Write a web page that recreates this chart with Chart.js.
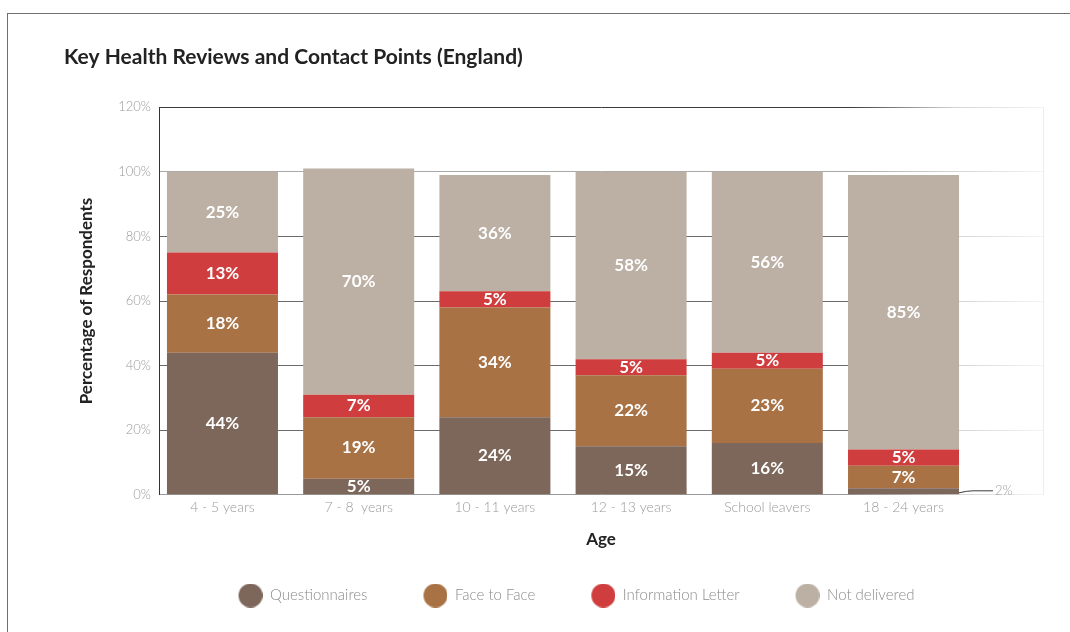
<!DOCTYPE html>
<html>
<head>
<meta charset="utf-8">
<title>Key Health Reviews and Contact Points (England)</title>
<script src="https://cdn.jsdelivr.net/npm/chart.js@4.4.1/dist/chart.umd.min.js"></script>
<style>
    html, body { margin: 0; padding: 0; background: #fff; }
    #wrap { position: relative; width: 1070px; height: 632px; overflow: hidden; }
    #frame {
        position: absolute; left: 7px; top: 13px; right: -10px; bottom: -10px;
        border-top: 1px solid #707070; border-left: 1px solid #707070;
    }
    #chart { position: absolute; left: 0; top: 0; }
</style>
</head>
<body>
<div id="wrap">
    <div id="frame"></div>
    <canvas id="chart" width="1070" height="632"></canvas>
</div>
<script>
// age groups along the x axis
const ageGroups = ["4 - 5 years", "7 - 8  years", "10 - 11 years", "12 - 13 years", "School leavers", "18 - 24 years"];

// percentage of respondents per contact type
const questionnaires = [44, 5, 24, 15, 16, 2];
const faceToFace = [18, 19, 34, 22, 23, 7];
const infoLetter = [13, 7, 5, 5, 5, 5];
const notDelivered = [25, 70, 36, 58, 56, 85];

const seriesNames = ["Questionnaires", "Face to Face", "Information Letter", "Not delivered"];
const seriesValues = [questionnaires, faceToFace, infoLetter, notDelivered];
const seriesColors = ["#7d665a", "#a87245", "#cf3d3e", "#bcb0a5"];

const FONT = "Lato, 'Open Sans', sans-serif";

// round legend markers, drawn at the right end of a wider box so items get more room
const DOT_BOX = 70;
function legendDot(color) {
    const c = document.createElement("canvas");
    c.width = DOT_BOX;
    c.height = 24;
    const g = c.getContext("2d");
    g.fillStyle = color;
    g.beginPath();
    g.arc(c.width - 12, 12, 12, 0, Math.PI * 2);
    g.fill();
    return c;
}
const legendDots = seriesColors.map(legendDot);

// grid lines fade out towards the right side of the plot
function fadeLine(ctx, base) {
    const area = ctx.chart.chartArea;
    if (!area) return base;
    const g = ctx.chart.ctx.createLinearGradient(area.left, 0, area.right, 0);
    g.addColorStop(0, base);
    g.addColorStop(0.78, base);
    g.addColorStop(0.9, "#d4d4d4");
    g.addColorStop(1, "#f4f4f4");
    return g;
}

function gridColor(ctx) {
    const v = ctx.tick ? ctx.tick.value : 0;
    if (v === 120) return fadeLine(ctx, "#3a3a3a");
    if (v === 100) return fadeLine(ctx, "#a8a8a8");
    if (v === 0) return fadeLine(ctx, "#9a9a9a");
    return fadeLine(ctx, "#6a6a6a");
}

// value labels in the middle of each segment, tiny ones get a leader line
const segmentLabels = {
    id: "segmentLabels",
    afterDatasetsDraw(chart) {
        const ctx = chart.ctx;
        ctx.save();
        ctx.textBaseline = "middle";
        chart.data.datasets.forEach((ds, di) => {
            const meta = chart.getDatasetMeta(di);
            if (meta.hidden) return;
            meta.data.forEach((bar, i) => {
                const v = ds.data[i].y;
                const { x, y, base, width } = bar.getProps(["x", "y", "base", "width"], true);
                const mid = (y + base) / 2;
                if (Math.abs(base - y) < 12) {
                    const x0 = x + width / 2;
                    ctx.strokeStyle = "#3a3a3a";
                    ctx.lineWidth = 1;
                    ctx.beginPath();
                    ctx.moveTo(x0, mid + 1.5);
                    ctx.quadraticCurveTo(x0 + 8, mid - 0.5, x0 + 14, mid - 0.5);
                    ctx.lineTo(x0 + 34, mid - 0.5);
                    ctx.stroke();
                    ctx.fillStyle = "#a0a0a0";
                    ctx.font = "300 13px " + FONT;
                    ctx.textAlign = "left";
                    ctx.fillText(v + "%", x0 + 36, mid - 1);
                } else {
                    ctx.fillStyle = "#ffffff";
                    ctx.font = "bold 17px " + FONT;
                    ctx.textAlign = "center";
                    ctx.fillText(v + "%", x, mid);
                }
            });
        });
        ctx.restore();
    }
};

const datasets = seriesNames.map((name, s) => ({
    label: name,
    data: seriesValues[s].map((v, i) => ({ x: i, y: v })),
    backgroundColor: seriesColors[s],
    borderWidth: 0,
    barPercentage: 0.815,
    categoryPercentage: 1,
    stack: "all"
}));

new Chart(document.getElementById("chart"), {
    type: "bar",
    data: { datasets },
    options: {
        responsive: false,
        animation: false,
        layout: { padding: { left: 64, right: 27, top: 0, bottom: 19 } },
        scales: {
            x: {
                type: "linear",
                stacked: true,
                offset: false,
                min: -0.466,
                max: 6.024,
                grid: { display: false, drawTicks: false, offset: false },
                border: { display: false },
                ticks: {
                    stepSize: 1,
                    includeBounds: false,
                    autoSkip: false,
                    maxRotation: 0,
                    padding: 4,
                    color: "#9a9a9a",
                    font: { family: FONT, size: 14, weight: "300" },
                    callback: (v) => ageGroups[v] ?? ""
                },
                title: {
                    display: true,
                    text: "Age",
                    color: "#222",
                    font: { family: FONT, size: 17, weight: "bold" },
                    padding: { top: 10, bottom: 28 }
                }
            },
            y: {
                stacked: true,
                min: 0,
                max: 120,
                afterFit: (scale) => { scale.width = 95; },
                grid: { color: gridColor, drawTicks: false, lineWidth: 1 },
                border: { color: "#333", width: 1 },
                ticks: {
                    stepSize: 20,
                    padding: 8,
                    color: "#9a9a9a",
                    font: { family: FONT, size: 13, weight: "300" },
                    callback: (v) => v + "%"
                },
                title: {
                    display: true,
                    text: "Percentage of Respondents",
                    color: "#222",
                    font: { family: FONT, size: 17, weight: "bold" },
                    padding: { top: 12, bottom: 0 }
                }
            },
            yRight: {
                position: "right",
                min: 0,
                max: 120,
                grid: { display: false, drawTicks: false },
                border: { color: "#ececec" },
                ticks: { display: false }
            }
        },
        plugins: {
            title: {
                display: true,
                text: "Key Health Reviews and Contact Points (England)",
                align: "start",
                color: "#222",
                font: { family: FONT, size: 21, weight: "bold" },
                padding: { top: 45, bottom: 37 }
            },
            legend: {
                position: "bottom",
                labels: {
                    usePointStyle: true,
                    pointStyleWidth: DOT_BOX,
                    padding: 10,
                    color: "#8c8c8c",
                    font: { family: FONT, size: 15, weight: "300" },
                    generateLabels(chart) {
                        return Chart.defaults.plugins.legend.labels.generateLabels(chart)
                            .map((item, i) => ({ ...item, pointStyle: legendDots[i] }));
                    }
                }
            },
            tooltip: { enabled: true }
        }
    },
    plugins: [segmentLabels]
});
</script>
</body>
</html>
